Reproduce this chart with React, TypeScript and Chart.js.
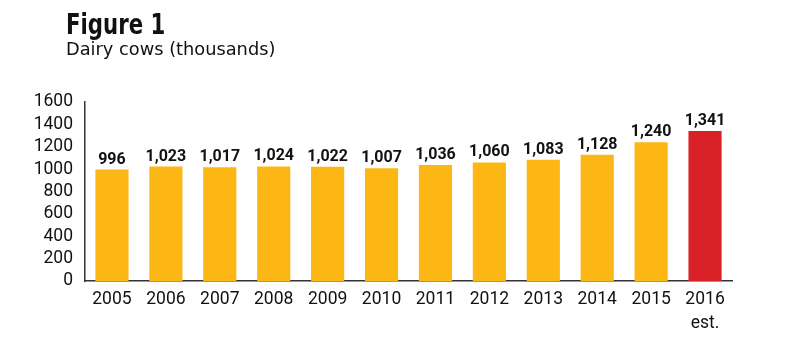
import React, { useEffect, useRef } from "react";
import { Chart, registerables } from "chart.js";

Chart.register(...registerables);

const categories: (string | string[])[] = ["2005", "2006", "2007", "2008", "2009", "2010", "2011", "2012", "2013", "2014", "2015", ["2016", "est."]];
const cows: number[] = [996, 1023, 1017, 1024, 1022, 1007, 1036, 1060, 1083, 1128, 1240, 1341];
const valueLabels: string[] = ["996", "1,023", "1,017", "1,024", "1,022", "1,007", "1,036", "1,060", "1,083", "1,128", "1,240", "1,341"];
const yTicks: number[] = [0, 200, 400, 600, 800, 1000, 1200, 1400, 1600];

const YELLOW = "#FDB714";
const RED = "#D92128";
const FONT = 'Roboto, "Liberation Sans", sans-serif';

const labelPlugin = {
  id: "valueLabels",
  afterDatasetsDraw(chart: any) {
    const ctx = chart.ctx;
    const meta = chart.getDatasetMeta(0);
    ctx.save();
    ctx.font = `bold 16px ${FONT}`;
    ctx.fillStyle = "#111";
    ctx.textAlign = "center";
    ctx.textBaseline = "alphabetic";
    meta.data.forEach((bar: any, i: number) => {
      ctx.fillText(valueLabels[i], bar.x, bar.y - 6);
    });
    ctx.restore();
  },
};

export default function App() {
  const ref = useRef<HTMLCanvasElement>(null);
  useEffect(() => {
    if (!ref.current) return;
    const chart = new Chart(ref.current, {
      type: "bar",
      data: {
        labels: categories,
        datasets: [
          {
            data: cows,
            backgroundColor: cows.map((_, i) => (i === cows.length - 1 ? RED : YELLOW)),
            barPercentage: 0.615,
            categoryPercentage: 1,
          },
        ],
      },
      options: {
        animation: false,
        responsive: false,
        maintainAspectRatio: false,
        layout: { padding: { top: 102, right: 58, left: 0, bottom: 0 } },
        plugins: { legend: { display: false }, tooltip: { enabled: false } },
        scales: {
          x: {
            grid: { display: false, drawTicks: false },
            border: { display: true, color: "#333", width: 1.5 },
            ticks: { color: "#111", padding: 7, font: { family: FONT, size: 17.5, lineHeight: 1.37 }, maxRotation: 0, autoSkip: false },
            afterFit: (s: any) => { s.height = 73; },
          },
          y: {
            min: 0,
            max: 1600,
            grid: { display: false, drawTicks: false },
            border: { display: true, color: "#333", width: 1.5 },
            afterBuildTicks: (s: any) => { s.ticks = yTicks.map((v) => ({ value: v })); },
            ticks: { color: "#111", padding: 12, autoSkip: false, font: { family: FONT, size: 17.5 }, callback: (v: any) => String(v) },
            afterFit: (s: any) => { s.width = 85; },
          },
        },
      },
      plugins: [labelPlugin],
    });
    return () => chart.destroy();
  }, []);
  return (
    <div style={{ position: "fixed", left: 0, top: 0, width: 790, height: 354, background: "#fff" }}>
      <canvas ref={ref} width={790} height={354} style={{ position: "absolute", left: 0, top: 0 }} />
      <div style={{ position: "absolute", left: 66, top: 9, fontFamily: '"DejaVu Sans", sans-serif', fontWeight: "bold", fontSize: 28, lineHeight: "32px", color: "#111", transform: "scaleX(0.76)", transformOrigin: "left top", whiteSpace: "nowrap" }}>Figure 1</div>
      <div style={{ position: "absolute", left: 66, top: 38, fontFamily: '"DejaVu Sans", sans-serif', fontSize: 17.8, lineHeight: "22px", color: "#111", whiteSpace: "nowrap" }}>Dairy cows (thousands)</div>
    </div>
  );
}
